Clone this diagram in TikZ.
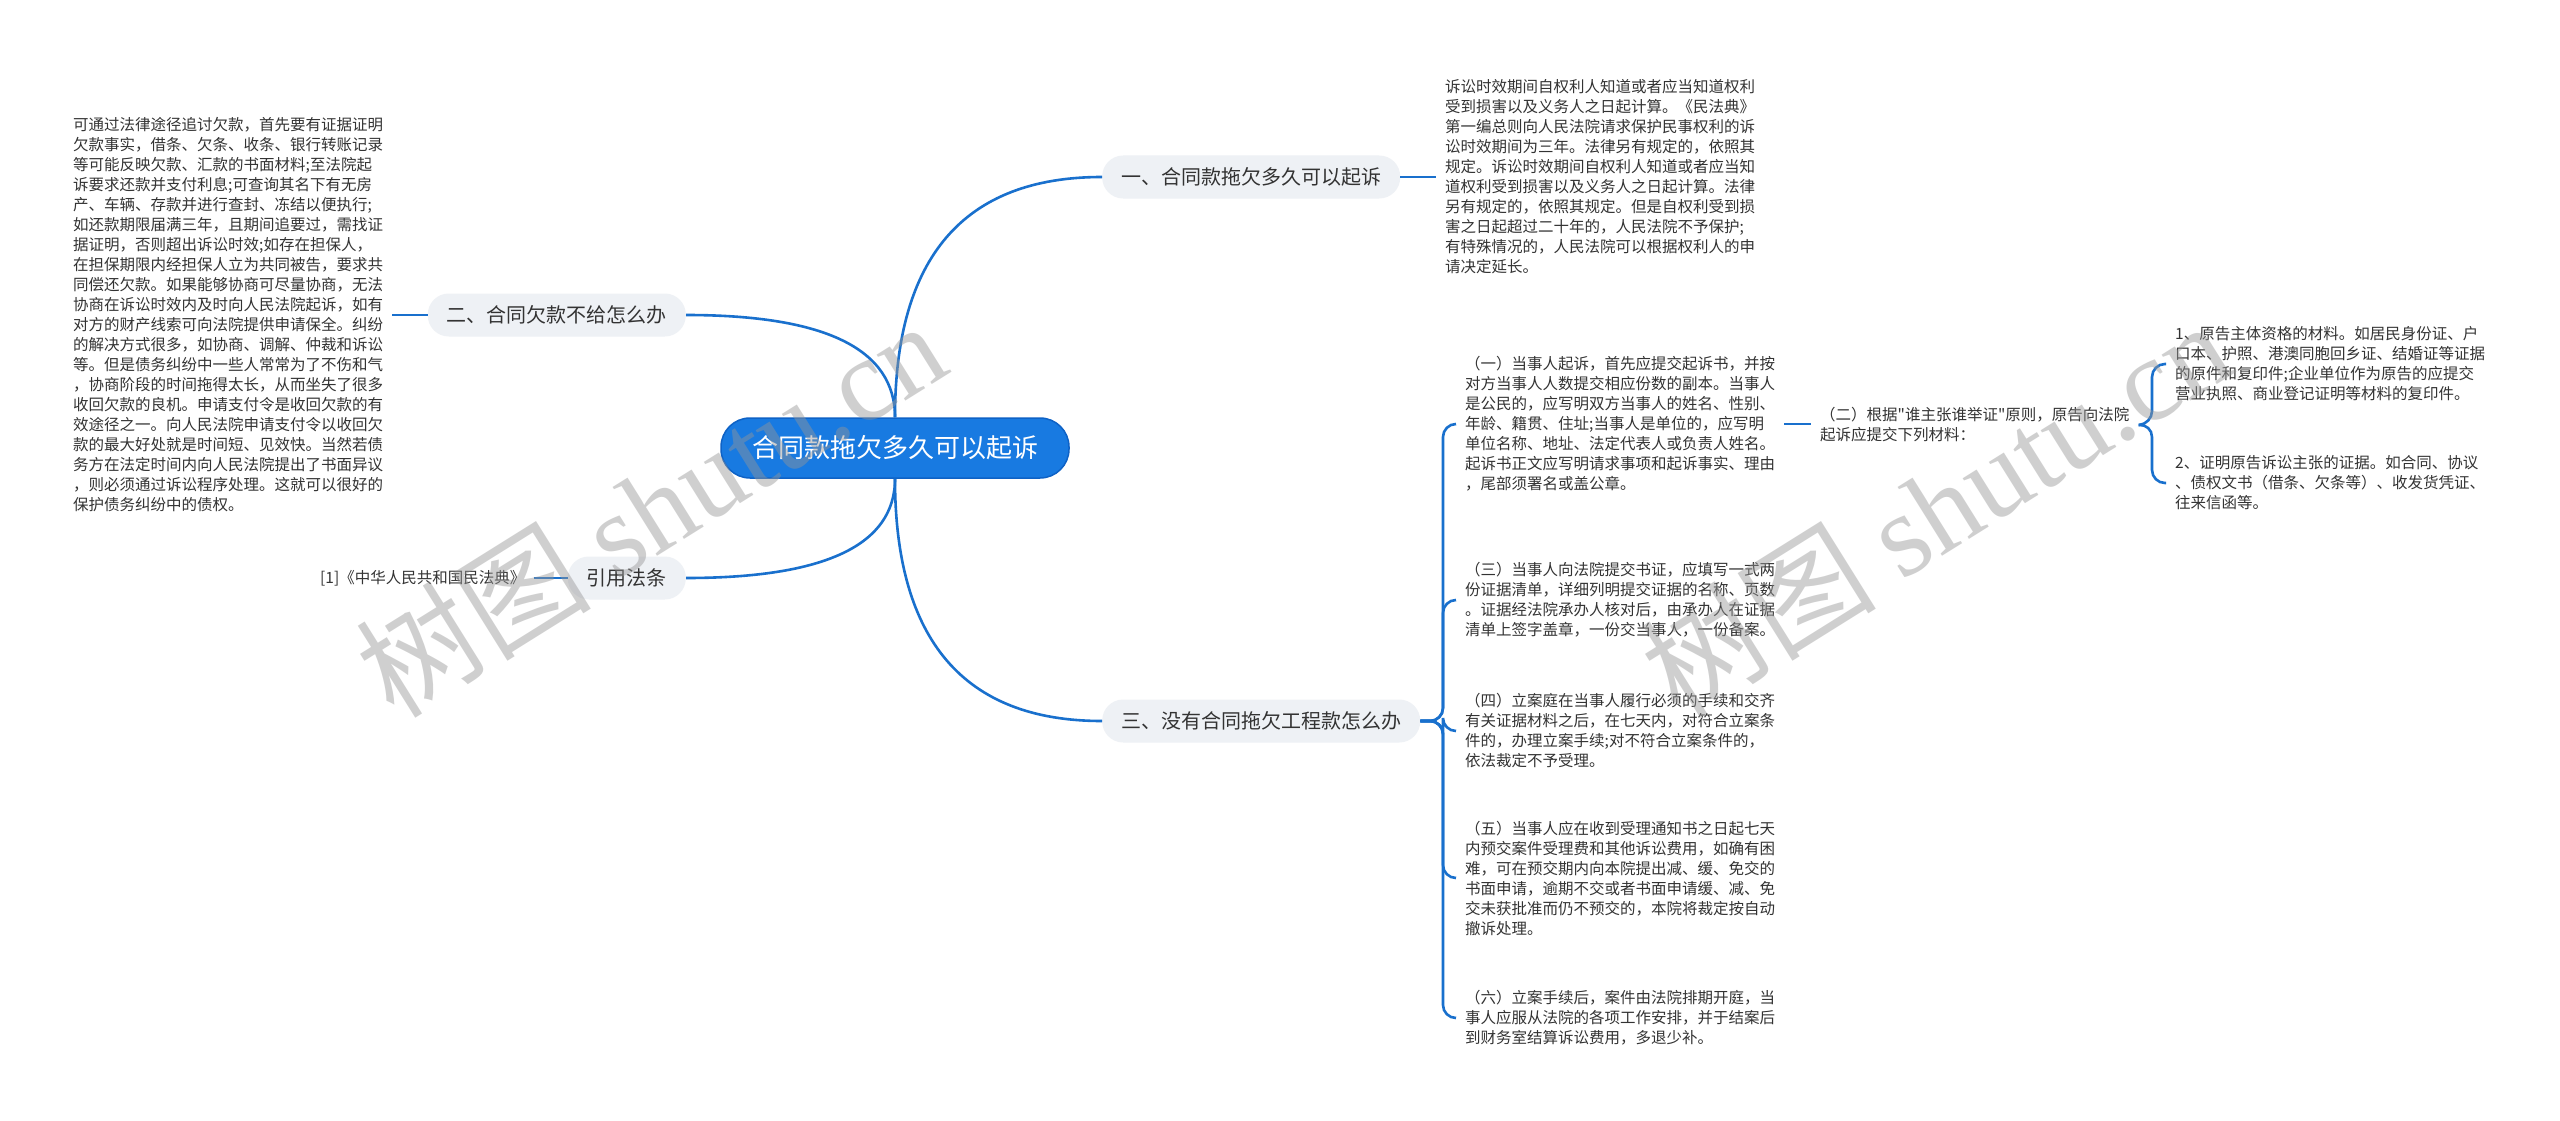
\documentclass[tikz,border=0pt]{standalone}
\usepackage{fontspec}
\setmainfont{Noto Sans CJK SC}[Ligatures=TeXOff]
\newfontfamily\wmserif{Liberation Serif}
\usetikzlibrary{calc}
\definecolor{mainblue}{RGB}{24,122,225}
\definecolor{mainborder}{RGB}{14,98,198}
\definecolor{linkblue}{RGB}{25,112,205}
\definecolor{branchfill}{RGB}{238,241,245}
\definecolor{txt}{RGB}{51,51,51}
\definecolor{wmgray}{RGB}{150,150,150}
\begin{document}
\begin{tikzpicture}[x=1pt,y=-1pt,
  conn/.style={draw=linkblue, line width=2.6pt},
  rootnode/.style={fill=mainblue, draw=mainborder, line width=1.5pt, rounded corners=29pt, minimum height=60pt, inner xsep=31pt, text=white, font=\fontsize{26}{30}\selectfont},
  branchnode/.style={fill=branchfill, rounded corners=21pt, minimum height=43pt, inner xsep=19pt, text=txt, font=\fontsize{20}{24}\selectfont},
  leaf/.style={align=left, inner xsep=9pt, inner ysep=0pt, text=txt, font=\fontsize{15.5}{20}\selectfont},
  wm/.style={rotate=32, text=wmgray, opacity=0.45, font=\fontsize{118}{118}\selectfont}
]
\fill[white] (0,0) rectangle (2560,1121);
\useasboundingbox (0,0) rectangle (2560,1121);

% root and branches
\node[rootnode] (root) at (895,448) {合同款拖欠多久可以起诉};
\node[branchnode, anchor=west] (b1) at (1102,177) {一、合同款拖欠多久可以起诉};
\node[branchnode, anchor=east] (b2) at (686,315) {二、合同欠款不给怎么办};
\node[branchnode, anchor=west] (b3) at (1102,721) {三、没有合同拖欠工程款怎么办};
\node[branchnode, anchor=east] (b4) at (686,578) {引用法条};

% leaves
\node[leaf, anchor=west] (l1) at (1436,177) {诉讼时效期间自权利人知道或者应当知道权利\\
受到损害以及义务人之日起计算。《民法典》\\
第一编总则向人民法院请求保护民事权利的诉\\
讼时效期间为三年。法律另有规定的，依照其\\
规定。诉讼时效期间自权利人知道或者应当知\\
道权利受到损害以及义务人之日起计算。法律\\
另有规定的，依照其规定。但是自权利受到损\\
害之日起超过二十年的，人民法院不予保护;\\
有特殊情况的，人民法院可以根据权利人的申\\
请决定延长。};

\node[leaf, anchor=west] (l2) at (64,315) {可通过法律途径追讨欠款，首先要有证据证明\\
欠款事实，借条、欠条、收条、银行转账记录\\
等可能反映欠款、汇款的书面材料;至法院起\\
诉要求还款并支付利息;可查询其名下有无房\\
产、车辆、存款并进行查封、冻结以便执行;\\
如还款期限届满三年，且期间追要过，需找证\\
据证明，否则超出诉讼时效;如存在担保人，\\
在担保期限内经担保人立为共同被告，要求共\\
同偿还欠款。如果能够协商可尽量协商，无法\\
协商在诉讼时效内及时向人民法院起诉，如有\\
对方的财产线索可向法院提供申请保全。纠纷\\
的解决方式很多，如协商、调解、仲裁和诉讼\\
等。但是债务纠纷中一些人常常为了不伤和气\\
，协商阶段的时间拖得太长，从而坐失了很多\\
收回欠款的良机。申请支付令是收回欠款的有\\
效途径之一。向人民法院申请支付令以收回欠\\
款的最大好处就是时间短、见效快。当然若债\\
务方在法定时间内向人民法院提出了书面异议\\
，则必须通过诉讼程序处理。这就可以很好的\\
保护债务纠纷中的债权。};

\node[leaf, anchor=west] (l4) at (311,578) {[1]《中华人民共和国民法典》};

\node[leaf, anchor=west] (c1) at (1456,424) {（一）当事人起诉，首先应提交起诉书，并按\\
对方当事人人数提交相应份数的副本。当事人\\
是公民的，应写明双方当事人的姓名、性别、\\
年龄、籍贯、住址;当事人是单位的，应写明\\
单位名称、地址、法定代表人或负责人姓名。\\
起诉书正文应写明请求事项和起诉事实、理由\\
，尾部须署名或盖公章。};

\node[leaf, anchor=west] (c3) at (1456,600) {（三）当事人向法院提交书证，应填写一式两\\
份证据清单，详细列明提交证据的名称、页数\\
。证据经法院承办人核对后，由承办人在证据\\
清单上签字盖章，一份交当事人，一份备案。};

\node[leaf, anchor=west] (c4) at (1456,731) {（四）立案庭在当事人履行必须的手续和交齐\\
有关证据材料之后，在七天内，对符合立案条\\
件的，办理立案手续;对不符合立案条件的，\\
依法裁定不予受理。};

\node[leaf, anchor=west] (c5) at (1456,878) {（五）当事人应在收到受理通知书之日起七天\\
内预交案件受理费和其他诉讼费用，如确有困\\
难，可在预交期内向本院提出减、缓、免交的\\
书面申请，逾期不交或者书面申请缓、减、免\\
交未获批准而仍不预交的，本院将裁定按自动\\
撤诉处理。};

\node[leaf, anchor=west] (c6) at (1456,1018) {（六）立案手续后，案件由法院排期开庭，当\\
事人应服从法院的各项工作安排，并于结案后\\
到财务室结算诉讼费用，多退少补。};

\node[leaf, anchor=west] (c2) at (1811,425) {（二）根据"谁主张谁举证"原则，原告向法院\\
起诉应提交下列材料：};

\node[leaf, anchor=west] (i1) at (2166,364) {1、原告主体资格的材料。如居民身份证、户\\
口本、护照、港澳同胞回乡证、结婚证等证据\\
的原件和复印件;企业单位作为原告的应提交\\
营业执照、商业登记证明等材料的复印件。};

\node[leaf, anchor=west] (i2) at (2166,483) {2、证明原告诉讼主张的证据。如合同、协议\\
、债权文书（借条、欠条等）、收发货凭证、\\
往来信函等。};

% root connectors
\draw[conn] (root.north) .. controls ($(root.north)!0.667!(root.north|-b1.west)$) and ($(b1.west)!0.667!(root.north|-b1.west)$) .. (b1.west);
\draw[conn] (root.north) .. controls ($(root.north)!0.667!(root.north|-b2.east)$) and ($(b2.east)!0.667!(root.north|-b2.east)$) .. (b2.east);
\draw[conn] (root.south) .. controls ($(root.south)!0.667!(root.south|-b3.west)$) and ($(b3.west)!0.667!(root.south|-b3.west)$) .. (b3.west);
\draw[conn] (root.south) .. controls ($(root.south)!0.667!(root.south|-b4.east)$) and ($(b4.east)!0.667!(root.south|-b4.east)$) .. (b4.east);

% branch to leaf connectors
\draw[conn] (b1.east) -- (b1.east -| l1.west);
\draw[conn] (b2.west) -- (b2.west -| l2.east);
\draw[conn] (b4.west) -- (b4.west -| l4.east);

\coordinate (t3) at (1443,721);
\foreach \c in {c1,c3,c4,c5,c6}{
  \draw[conn, rounded corners=13pt] (b3.east) -- (t3) |- (\c.west);
}
\draw[conn] (c1.east) -- (c1.east -| c2.west);
\coordinate (t2) at (2152,424);
\draw[conn, rounded corners=13pt] (c2.east) -- (t2) |- (i1.west);
\draw[conn, rounded corners=13pt] (c2.east) -- (t2) |- (i2.west);

% watermarks
\node[wm] (wm1) at (650,508) {树图 {\wmserif shutu.cn}};
\node[wm] (wm2) at (1935,508) {树图 {\wmserif shutu.cn}};
\end{tikzpicture}
\end{document}
